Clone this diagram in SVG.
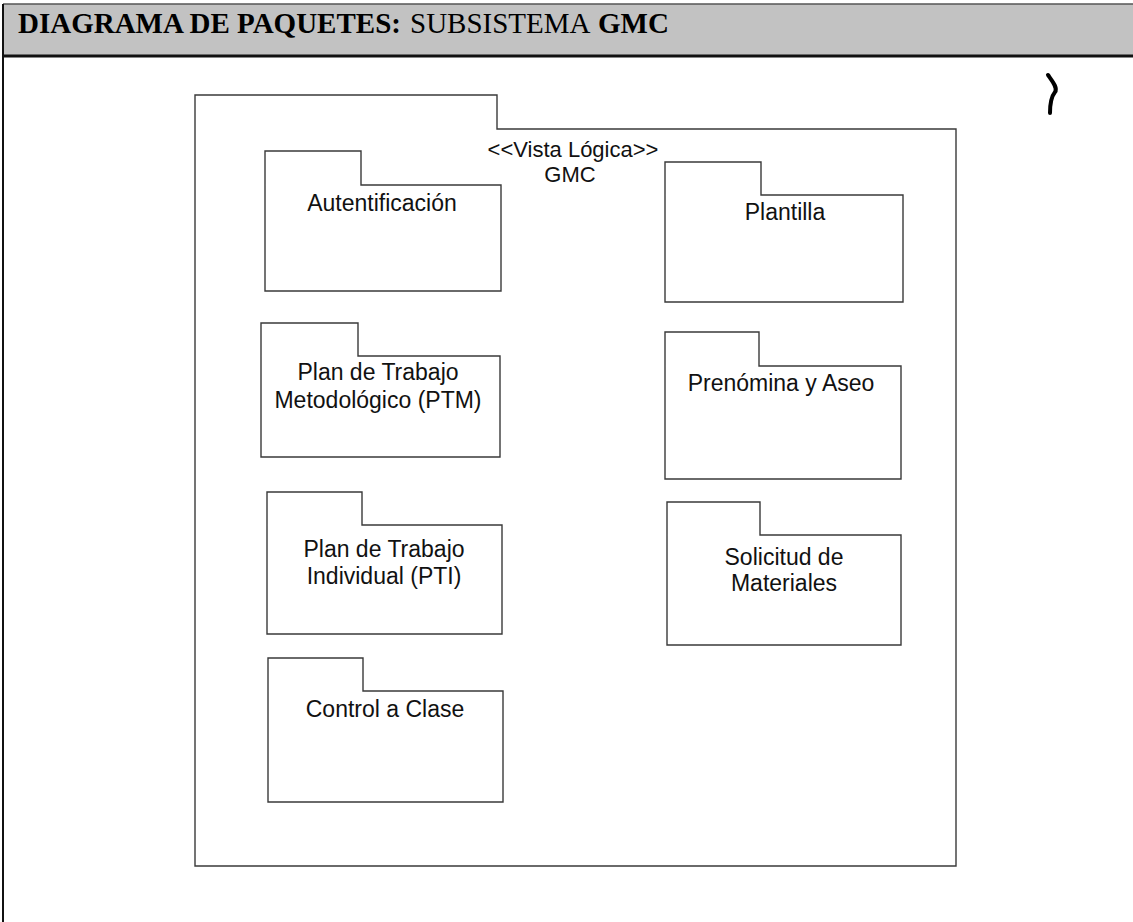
<svg xmlns="http://www.w3.org/2000/svg" width="1133" height="922" viewBox="0 0 1133 922">
  <style>
    .pkg { fill: #ffffff; stroke: #3a3a3a; stroke-width: 1.4; }
    .lbl { font-family: "Liberation Sans", Arial, sans-serif; font-size: 23px; fill: #111; text-anchor: middle; }
    .stereo { font-family: "Liberation Sans", Arial, sans-serif; font-size: 22px; fill: #111; text-anchor: middle; }
    .title { font-family: "Liberation Serif", "Times New Roman", serif; font-size: 29px; fill: #000; }
  </style>

  <!-- page background and frame -->
  <rect x="0" y="0" width="1133" height="922" fill="#ffffff"/>
  <rect x="3" y="4" width="1130" height="52" fill="#c2c2c2"/>
  <line x1="3" y1="4" x2="1133" y2="4" stroke="#555" stroke-width="1.5"/>
  <line x1="3" y1="56" x2="1133" y2="56" stroke="#111" stroke-width="3"/>
  <line x1="3" y1="4" x2="3" y2="922" stroke="#111" stroke-width="2"/>

  <g id="title">
    <text class="title" x="18" y="33" font-weight="bold">DIAGRAMA DE PAQUETES:</text>
    <text class="title" x="410" y="33">SUBSISTEMA</text>
    <text class="title" x="598" y="33" font-weight="bold">GMC</text>
  </g>

  <!-- stray pen mark at the upper right -->
  <path d="M1048,75 C1053,82 1058,88 1055,92 C1051,97 1050,104 1050,113" fill="none" stroke="#000" stroke-width="4" stroke-linecap="round"/>

  <!-- enclosing package: logical view -->
  <g id="pkg-gmc">
    <path class="pkg" d="M195,95 H497 V129 H956 V866 H195 Z"/>
    <text class="stereo" x="573" y="157">&lt;&lt;Vista Lógica&gt;&gt;</text>
    <text class="stereo" x="570" y="182">GMC</text>
  </g>

  <g id="pkg-autentificacion">
    <path class="pkg" d="M265,151 H361 V185 H501 V291 H265 Z"/>
    <text class="lbl" x="382" y="211">Autentificación</text>
  </g>

  <g id="pkg-ptm">
    <path class="pkg" d="M261,323 H358 V356 H500 V457 H261 Z"/>
    <text class="lbl" x="378" y="380">Plan de Trabajo</text>
    <text class="lbl" x="378" y="408">Metodológico (PTM)</text>
  </g>

  <g id="pkg-pti">
    <path class="pkg" d="M267,492 H362 V525 H502 V634 H267 Z"/>
    <text class="lbl" x="384" y="557">Plan de Trabajo</text>
    <text class="lbl" x="384" y="584">Individual (PTI)</text>
  </g>

  <g id="pkg-control">
    <path class="pkg" d="M268,658 H363 V691 H503 V802 H268 Z"/>
    <text class="lbl" x="385" y="717">Control a Clase</text>
  </g>

  <g id="pkg-plantilla">
    <path class="pkg" d="M665,162 H761 V195 H903 V302 H665 Z"/>
    <text class="lbl" x="785" y="220">Plantilla</text>
  </g>

  <g id="pkg-prenomina">
    <path class="pkg" d="M665,332 H759 V366 H901 V479 H665 Z"/>
    <text class="lbl" x="781" y="391">Prenómina y Aseo</text>
  </g>

  <g id="pkg-solicitud">
    <path class="pkg" d="M667,502 H760 V535 H901 V645 H667 Z"/>
    <text class="lbl" x="784" y="565">Solicitud de</text>
    <text class="lbl" x="784" y="591">Materiales</text>
  </g>

  <!-- no dependencies are drawn between these packages -->
  <g id="connectors"></g>
</svg>
